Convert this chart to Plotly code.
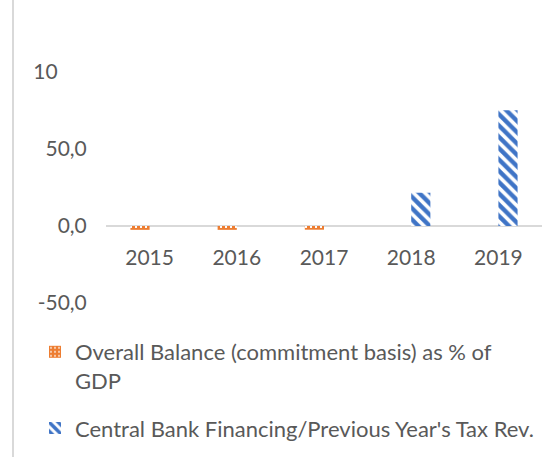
import plotly.graph_objects as go

years = ["2015", "2016", "2017", "2018", "2019"]
overall_balance = [-2.5, -2.5, -2.4, None, None]
cb_financing = [None, None, None, 21.6, 75.1]
series_names = ["Overall Balance (commitment basis) as % of<br>GDP",
                "Central Bank Financing/Previous Year's Tax Rev."]
y_tickvals = [-50, 0, 50, 100]
y_ticktext = ["-50,0", "0,0", "50,0",
              "10<span style='color:rgba(0,0,0,0)'>0,0</span>"]

FONT = "Lato"
W, H = 557, 457
L, R, T, B = 106, 15, 72, 154
pw = W - L - R
ph = H - T - B

fig = go.Figure()
fig.add_trace(go.Bar(
    x=years, y=overall_balance, name=series_names[0], legendgroup="a",
    marker=dict(color="white", line=dict(width=0),
                pattern=dict(shape="+", fgcolor="#ED7D31", bgcolor="white",
                             size=5, solidity=0.85, fgopacity=1)),
))
fig.add_trace(go.Bar(
    x=years, y=cb_financing, name=series_names[1], legendgroup="b",
    marker=dict(color="white", line=dict(width=0),
                pattern=dict(shape="\\", fgcolor="#3F74C6", bgcolor="white",
                             size=8, solidity=0.55, fgopacity=1)),
))

fig.update_layout(
    width=W, height=H,
    margin=dict(l=L, r=R, t=T, b=B, autoexpand=False),
    paper_bgcolor="white", plot_bgcolor="white",
    barmode="group", bargap=0.56, bargroupgap=0,
    font=dict(family=FONT, size=21, color="#595959"),
    xaxis=dict(
        type="category", anchor="free", position=50 / 150, automargin=False,
        showline=False, showgrid=False, zeroline=False,
        ticks="outside", ticklen=13, tickcolor="rgba(0,0,0,0)",
        tickfont=dict(family=FONT, size=21, color="#595959"),
    ),
    yaxis=dict(
        range=[-50, 100], tickvals=y_tickvals, ticktext=y_ticktext,
        automargin=False,
        showgrid=False, showline=False,
        zeroline=True, zerolinecolor="#d9d9d9", zerolinewidth=2,
        ticks="outside", ticklen=14, tickcolor="rgba(0,0,0,0)",
        tickfont=dict(family=FONT, size=21, color="#595959"),
    ),
    legend=dict(
        orientation="v", x=(35 - L) / pw, xanchor="left",
        y=-(331 - (T + ph)) / ph, yanchor="top", valign="top",
        font=dict(family=FONT, size=22, color="#595959"),
        bgcolor="rgba(0,0,0,0)", tracegroupgap=16,
    ),
    showlegend=True,
    shapes=[dict(type="line", xref="paper", yref="paper",
                 x0=(13 - L) / pw, x1=(13 - L) / pw,
                 y0=-(H - T - ph) / ph - 0.05, y1=1 + T / ph + 0.05,
                 line=dict(color="#d9d9d9", width=2))],
)

fig.write_html("out.html", config={"displayModeBar": False},
               post_script="document.body.style.margin='0';document.body.style.overflow='hidden';")
